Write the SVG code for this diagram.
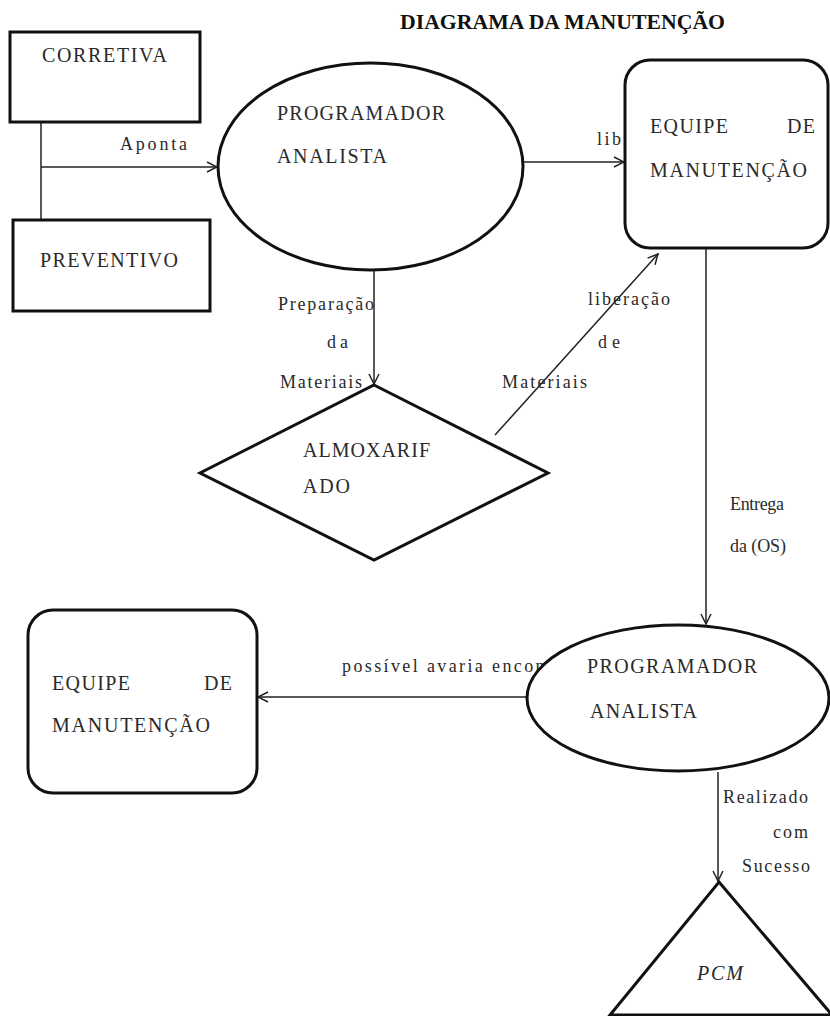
<svg xmlns="http://www.w3.org/2000/svg" width="830" height="1016" viewBox="0 0 830 1016">
<style>
.t{font-family:"Liberation Serif","DejaVu Serif",serif;font-size:20px;fill:#2a2a2a}
.l{font-family:"Liberation Serif","DejaVu Serif",serif;font-size:18px;fill:#2a2a2a}
.title{font-family:"Liberation Serif","DejaVu Serif",serif;font-size:20px;font-weight:bold;fill:#111}
.n{fill:#fff;stroke:#111;stroke-width:3}
.c{fill:none;stroke:#222;stroke-width:1.5}
</style>
<defs>
<marker id="arr" viewBox="0 0 12 12" refX="11" refY="6" markerWidth="12" markerHeight="12" markerUnits="userSpaceOnUse" orient="auto">
<path d="M1,1 L11,6 L1,11" fill="none" stroke="#222" stroke-width="1.5"/>
</marker>
</defs>
<rect width="830" height="1016" fill="#fff"/>
<text class="title" x="400" y="29" textLength="325" lengthAdjust="spacingAndGlyphs">DIAGRAMA DA MANUTENÇÃO</text>

<g id="connectors">
<line class="c" x1="41" y1="122" x2="41" y2="220"/>
<line class="c" x1="41" y1="167" x2="217" y2="167" marker-end="url(#arr)"/>
<text class="l" x="120" y="150" textLength="67" lengthAdjust="spacing">Aponta</text>
<line class="c" x1="523" y1="162" x2="624" y2="162" marker-end="url(#arr)"/>
<text class="l" x="597" y="145" textLength="24" lengthAdjust="spacing">lib</text>
<line class="c" x1="374" y1="270" x2="374" y2="384" marker-end="url(#arr)"/>
<text class="l" x="278" y="310" textLength="96" lengthAdjust="spacing">Preparação</text>
<text class="l" x="327" y="348" textLength="21" lengthAdjust="spacing">da</text>
<text class="l" x="280" y="388" textLength="82" lengthAdjust="spacing">Materiais</text>
<line class="c" x1="495" y1="435" x2="658" y2="254" marker-end="url(#arr)"/>
<text class="l" x="588" y="305" textLength="82" lengthAdjust="spacing">liberação</text>
<text class="l" x="598" y="348" textLength="22" lengthAdjust="spacing">de</text>
<text class="l" x="502" y="388" textLength="85" lengthAdjust="spacing">Materiais</text>
<line class="c" x1="706" y1="248" x2="706" y2="624" marker-end="url(#arr)"/>
<text class="l" x="730" y="510" textLength="54" lengthAdjust="spacing">Entrega</text>
<text class="l" x="730" y="552" textLength="56" lengthAdjust="spacing">da (OS)</text>
<line class="c" x1="527" y1="697" x2="258" y2="697" marker-end="url(#arr)"/>
<text class="l" x="342" y="672" textLength="210" lengthAdjust="spacing">possível avaria encont</text>
<line class="c" x1="718" y1="772" x2="718" y2="881" marker-end="url(#arr)"/>
<text class="l" x="723" y="803" textLength="85" lengthAdjust="spacing">Realizado</text>
<text class="l" x="773" y="838" textLength="35" lengthAdjust="spacing">com</text>
<text class="l" x="742" y="872" textLength="68" lengthAdjust="spacing">Sucesso</text>
</g>

<g id="corretiva">
<rect class="n" x="10" y="32" width="190" height="90"/>
<text class="t" x="42" y="62" textLength="125" lengthAdjust="spacing">CORRETIVA</text>
</g>
<g id="preventivo">
<rect class="n" x="13" y="220" width="197" height="91"/>
<text class="t" x="40" y="267" textLength="138" lengthAdjust="spacing">PREVENTIVO</text>
</g>
<g id="programador1">
<ellipse class="n" cx="370.5" cy="166.5" rx="152.5" ry="103.5"/>
<text class="t" x="277" y="120" textLength="168" lengthAdjust="spacing">PROGRAMADOR</text>
<text class="t" x="277" y="163" textLength="110" lengthAdjust="spacing">ANALISTA</text>
</g>
<g id="equipe1">
<rect class="n" x="625" y="60" width="203" height="188" rx="25" ry="25"/>
<text class="t" x="650" y="133" textLength="78" lengthAdjust="spacing">EQUIPE</text>
<text class="t" x="787" y="133" textLength="28" lengthAdjust="spacing">DE</text>
<text class="t" x="650" y="177" textLength="157" lengthAdjust="spacing">MANUTENÇÃO</text>
</g>
<g id="almoxarifado">
<polygon class="n" points="374,385 548,473 374,560 200,473"/>
<text class="t" x="303" y="457" textLength="127" lengthAdjust="spacing">ALMOXARIF</text>
<text class="t" x="303" y="493" textLength="47" lengthAdjust="spacing">ADO</text>
</g>
<g id="equipe2">
<rect class="n" x="28" y="610" width="229" height="183" rx="25" ry="25"/>
<text class="t" x="52" y="690" textLength="78" lengthAdjust="spacing">EQUIPE</text>
<text class="t" x="204" y="690" textLength="28" lengthAdjust="spacing">DE</text>
<text class="t" x="52" y="732" textLength="158" lengthAdjust="spacing">MANUTENÇÃO</text>
</g>
<g id="programador2">
<ellipse class="n" cx="678" cy="698" rx="151" ry="73"/>
<text class="t" x="587" y="673" textLength="170" lengthAdjust="spacing">PROGRAMADOR</text>
<text class="t" x="590" y="718" textLength="107" lengthAdjust="spacing">ANALISTA</text>
</g>
<g id="pcm">
<polygon class="n" points="719,882 832,1015 610,1015"/>
<text class="t" x="697" y="980" font-style="italic" textLength="46" lengthAdjust="spacing">PCM</text>
</g>
</svg>
